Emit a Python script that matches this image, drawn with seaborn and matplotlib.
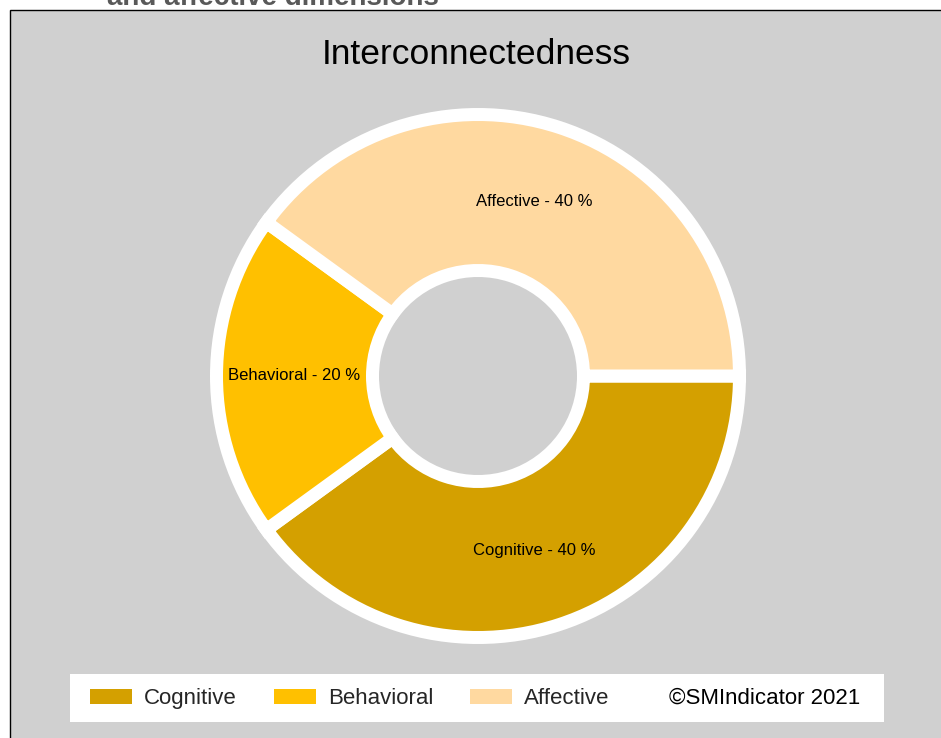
import numpy as np
import matplotlib
matplotlib.use("Agg")
import matplotlib.pyplot as plt
from matplotlib.patches import Patch, Rectangle
import seaborn as sns

# data
categories = ["Cognitive", "Behavioral", "Affective"]
shares = [40, 20, 40]
colors = ["#D4A000", "#FFC000", "#FFD9A0"]
title = "Interconnectedness"
credit = "\u00a9SMIndicator 2021"
header = "and affective dimensions"

sns.set_style("white")
plt.rcParams["font.family"] = ["Liberation Sans", "DejaVu Sans"]
palette = sns.color_palette(colors)

W, H = 941, 738
fig = plt.figure(figsize=(W / 100, H / 100), dpi=100, facecolor="white")
ax = fig.add_axes([0, 0, 1, 1])

# donut (pixel units, y measured from bottom)
cx, cy = 478, H - 376
r_out, r_in = 261.5, 105.5
wedges, _ = ax.pie(shares, colors=palette, startangle=0, counterclock=False,
                   radius=r_out, center=(cx, cy),
                   wedgeprops=dict(width=r_out - r_in, edgecolor="white",
                                   linewidth=13 * 0.72, joinstyle="miter"))
for w in wedges:
    w.set_zorder(3)

# labels in the middle of the ring
r_lab = (r_out + r_in) / 2
for w, name, val in zip(wedges, categories, shares):
    ang = np.deg2rad((w.theta1 + w.theta2) / 2)
    ax.text(cx + r_lab * np.cos(ang), cy + r_lab * np.sin(ang),
            f"{name} - {val} %", ha="center", va="center",
            fontsize=12, color="black", zorder=5)

# frame of the panel
ax.add_patch(Rectangle((10, -20), W + 20, H - 10 + 20, facecolor="#D0D0D0",
                       edgecolor="black", linewidth=1.0, zorder=0))
# legend box
ax.add_patch(Rectangle((70, H - 722), 814, 48, facecolor="white",
                       edgecolor="none", zorder=1))

ax.set_xlim(0, W)
ax.set_ylim(0, H)
ax.set_aspect("equal")
ax.axis("off")

ax.text(476.5, H - 64, title, ha="center", va="baseline", fontsize=25.5,
        color="black", zorder=5)
fig.text(107 / W, 1 - 5 / H, header, ha="left", va="baseline", fontsize=20,
         fontweight="bold", color="#595959")

handles = [Patch(facecolor=c, edgecolor="none") for c in palette]
fig.legend(handles, categories, loc="center left",
           bbox_to_anchor=(90 / W, 1 - 698.5 / H), ncol=3, frameon=False,
           fontsize=16, handlelength=1.89, handleheight=0.68,
           handletextpad=0.54, columnspacing=1.67, borderpad=0,
           borderaxespad=0)
ax.text(669, H - 704, credit, ha="left", va="baseline", fontsize=16,
        color="black", zorder=5)

fig.savefig("out.png", dpi=100, facecolor="white")
